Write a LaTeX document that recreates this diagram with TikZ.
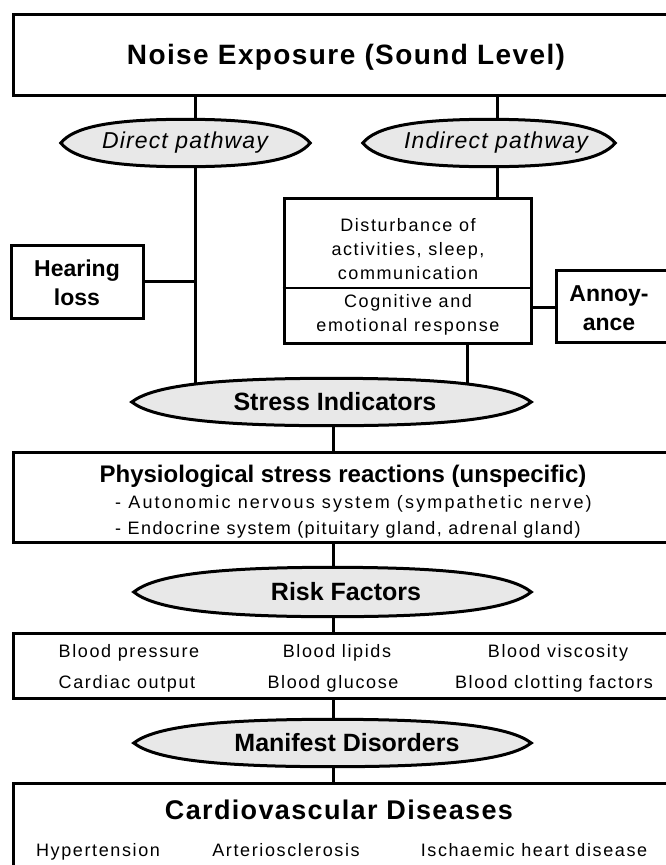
\documentclass[tikz,border=0pt]{standalone}
\usepackage{fontspec}
\setmainfont{Liberation Sans}
\newfontfamily\lsA[LetterSpace=5]{Liberation Sans}
\newfontfamily\lsB[LetterSpace=8]{Liberation Sans}
\newfontfamily\lsD[LetterSpace=9]{Liberation Sans}
\newfontfamily\lsC[LetterSpace=12]{Liberation Sans}
\usetikzlibrary{shapes.geometric,backgrounds}
\pgfdeclarelayer{ovals}
\pgfsetlayers{background,ovals,main}

\tikzset{
  box/.style={draw, line width=3pt, fill=white, inner sep=0pt},
  oval/.style={ellipse, draw=none, inner sep=0pt},
  lensline/.style={line width=3pt, fill=gray!18, line join=miter},
  link/.style={line width=3pt},
  divider/.style={line width=2pt},
  txt/.style={inner sep=0pt, align=center},
  headfont/.style={font=\lsA\fontsize{28}{32}\selectfont\bfseries},
  ovalfont/.style={font=\fontsize{25}{30}\selectfont\bfseries},
  pathfont/.style={font=\lsA\fontsize{23}{28}\selectfont\itshape},
  boldlabel/.style={font=\fontsize{23}{29}\selectfont\bfseries},
  subhead/.style={font=\fontsize{24}{28}\selectfont\bfseries},
  bulletA/.style={font=\lsC\fontsize{18}{25}\selectfont},
  bulletB/.style={font=\lsB\fontsize{18}{25}\selectfont},
  small/.style={font=\lsD\fontsize{18}{24}\selectfont},
  cell/.style={small, text height=13pt, text depth=4pt},
  cvdfont/.style={font=\lsA\fontsize{27}{32}\selectfont\bfseries}
}

% pointed oval drawn round a named node: #1 node, #2 half width, #3 half height
\newcommand\lensoval[3]{%
  \begin{pgfonlayer}{ovals}
  \filldraw[lensline] (#1.west)
    .. controls +(0.1*#2,-0.66*#3) and +(-0.62*#2,0) .. (#1.north)
    .. controls +(0.62*#2,0) and +(-0.1*#2,-0.66*#3) .. (#1.east)
    .. controls +(-0.1*#2,0.66*#3) and +(0.62*#2,0) .. (#1.south)
    .. controls +(-0.62*#2,0) and +(0.1*#2,0.66*#3) .. cycle;
  \end{pgfonlayer}}

\begin{document}
\begin{tikzpicture}[x=1pt,y=-1pt]
\useasboundingbox (0,0) rectangle (666,865);
\clip (0,0) rectangle (666,865);

% top box
\node[box, minimum width=667pt, minimum height=81pt] (noise) at (346.5,54.5) {};
\node[txt, headfont] (noiseT) at (346,57) {Noise Exposure (Sound Level)};

% the two pathways
\node[oval, minimum width=249pt, minimum height=47pt] (direct) at (185.5,143) {};
\lensoval{direct}{124.5}{23.5}
\node[txt, pathfont] (directT) at (185,143) {Direct pathway};
\node[oval, minimum width=252pt, minimum height=47pt] (indirect) at (489,143) {};
\lensoval{indirect}{126}{23.5}
\node[txt, pathfont] (indirectT) at (496,143) {Indirect pathway};

% direct branch
\node[box, minimum width=132pt, minimum height=73pt] (hearing) at (77,281.5) {};
\node[txt, boldlabel] (hearingT) at (77,282.5) {Hearing\\loss};

% indirect branch
\node[box, minimum width=247pt, minimum height=145pt] (dist) at (407.5,270.5) {};
\node[txt, small] (distA) at (408,249) {Disturbance of\\activities, sleep,\\communication};
\node[txt, small] (distB) at (408,315) {Cognitive and\\emotional response};
\node[box, minimum width=124pt, minimum height=72pt] (annoy) at (618,306) {};
\node[txt, boldlabel] (annoyT) at (609,308.5) {Annoy-\\ance};

% stress indicators
\node[oval, minimum width=399pt, minimum height=47pt] (stress) at (331.5,402) {};
\lensoval{stress}{199.5}{23.5}
\node[txt, ovalfont] (stressT) at (335,402) {Stress Indicators};

% physiological reactions
\node[box, minimum width=667pt, minimum height=90pt] (physio) at (346.5,497) {};
\node[txt, subhead] (physioT) at (343,476) {Physiological stress reactions (unspecific)};
\node[txt, bulletA, anchor=west] (physioA) at (115,504) {- Autonomic nervous system (sympathetic nerve)};
\node[txt, bulletB, anchor=west] (physioB) at (115,530) {- Endocrine system (pituitary gland, adrenal gland)};

% risk factors
\node[oval, minimum width=397pt, minimum height=49pt] (risk) at (332.5,592) {};
\lensoval{risk}{198.5}{24.5}
\node[txt, ovalfont] (riskT) at (346,592) {Risk Factors};
\node[box, minimum width=667pt, minimum height=65pt] (riskbox) at (346.5,665.5) {};
\node[txt, cell] (rfA) at (129,653) {Blood pressure};
\node[txt, cell] (rfB) at (337,653) {Blood lipids};
\node[txt, cell] (rfC) at (558,653) {Blood viscosity};
\node[txt, cell] (rfD) at (127,684) {Cardiac output};
\node[txt, cell] (rfE) at (333,684) {Blood glucose};
\node[txt, cell] (rfF) at (554,684) {Blood clotting factors};

% manifest disorders
\node[oval, minimum width=397pt, minimum height=47pt] (manifest) at (332.5,743) {};
\lensoval{manifest}{198.5}{23.5}
\node[txt, ovalfont] (manifestT) at (347,743) {Manifest Disorders};
\node[box, minimum width=667pt, minimum height=117pt] (cvd) at (346.5,841.5) {};
\node[txt, cvdfont] (cvdT) at (339,810) {Cardiovascular Diseases};
\node[txt, cell] (cvdA) at (98,852) {Hypertension};
\node[txt, cell] (cvdB) at (286,852) {Arteriosclerosis};
\node[txt, cell] (cvdC) at (534,852) {Ischaemic heart disease};

% routing columns and rows
\coordinate (xl) at (195,0);
\coordinate (xr) at (497,0);
\coordinate (xs) at (467,0);
\coordinate (xm) at (333,0);
\coordinate (ya) at (0,307);
\coordinate (yd) at (0,288);

\draw[divider] (dist.west |- yd) -- (dist.east |- yd);

\begin{scope}[on background layer]
  \fill[white] (0,0) rectangle (666,865);
  \draw[link] (xl |- noise.south) -- (xl |- direct.center);
  \draw[link] (xl |- direct.center) -- (xl |- stress.center);
  \draw[link] (hearing.east) -- (xl |- hearing.east);
  \draw[link] (xr |- noise.south) -- (xr |- indirect.center);
  \draw[link] (xr |- indirect.center) -- (xr |- dist.north);
  \draw[link] (xs |- dist.south) -- (xs |- stress.center);
  \draw[link] (dist.east |- ya) -- (annoy.west |- ya);
  \draw[link] (xm |- stress.center) -- (xm |- physio.north);
  \draw[link] (xm |- physio.south) -- (xm |- risk.center);
  \draw[link] (xm |- risk.center) -- (xm |- riskbox.north);
  \draw[link] (xm |- riskbox.south) -- (xm |- manifest.center);
  \draw[link] (xm |- manifest.center) -- (xm |- cvd.north);
\end{scope}
\end{tikzpicture}
\end{document}
